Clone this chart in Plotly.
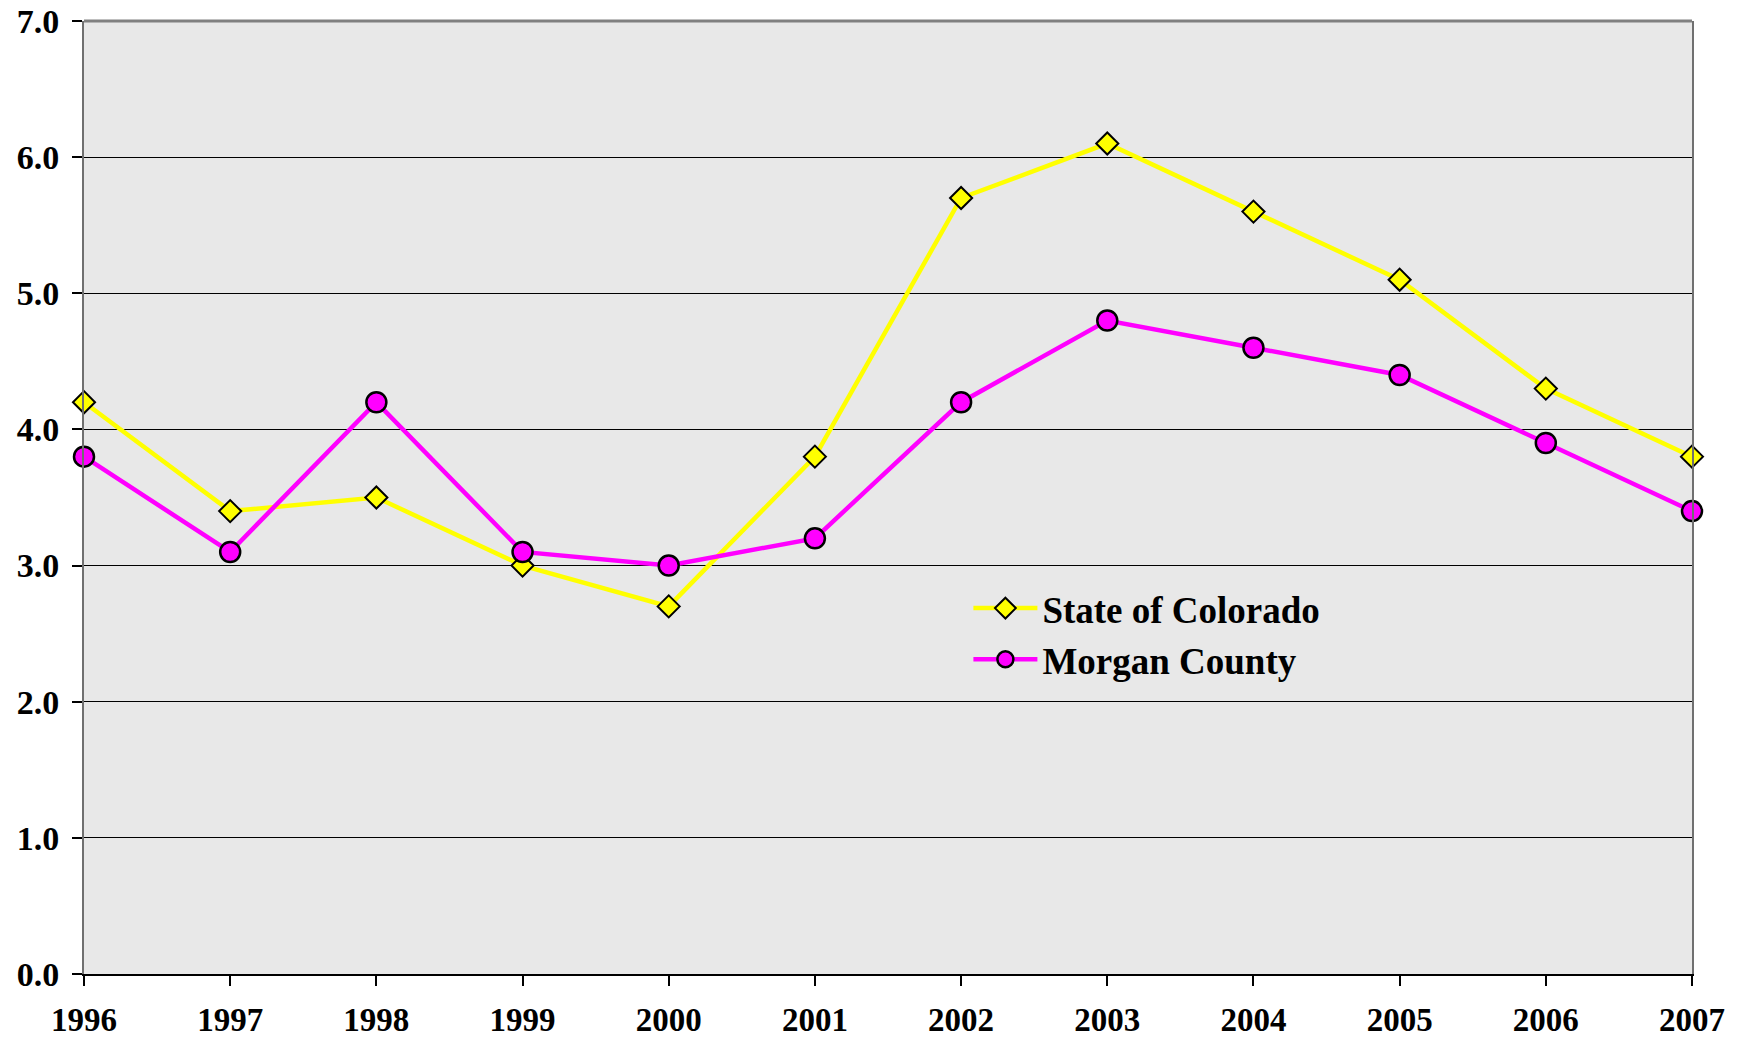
import plotly.graph_objects as go

years = [1996, 1997, 1998, 1999, 2000, 2001, 2002, 2003, 2004, 2005, 2006, 2007]
colorado = [4.2, 3.4, 3.5, 3.0, 2.7, 3.8, 5.7, 6.1, 5.6, 5.1, 4.3, 3.8]
morgan = [3.8, 3.1, 4.2, 3.1, 3.0, 3.2, 4.2, 4.8, 4.6, 4.4, 3.9, 3.4]
y_ticks = [0, 1, 2, 3, 4, 5, 6, 7]
y_labels = ["0.0", "1.0", "2.0", "3.0", "4.0", "5.0", "6.0", "7.0"]

FONT = "Liberation Serif, Times New Roman, serif"

fig = go.Figure()
fig.add_trace(go.Scatter(
    x=years, y=colorado, name="State of Colorado", mode="lines+markers",
    line=dict(color="#FFFF00", width=4.5),
    marker=dict(symbol="diamond", size=17, color="#FFFF00",
                line=dict(color="black", width=2)),
    cliponaxis=False,
))
fig.add_trace(go.Scatter(
    x=years, y=morgan, name="Morgan County", mode="lines+markers",
    line=dict(color="#FF00FF", width=4.5),
    marker=dict(symbol="circle", size=20, color="#FF00FF",
                line=dict(color="black", width=2.5)),
    cliponaxis=False,
))

fig.update_layout(
    width=1740, height=1042,
    margin=dict(l=84, r=48, t=21, b=68, autoexpand=False),
    paper_bgcolor="white",
    plot_bgcolor="#e8e8e8",
    font=dict(family=FONT, color="black"),
    showlegend=True,
    legend=dict(
        x=0.550, y=0.416, xanchor="left", yanchor="top",
        bgcolor="rgba(0,0,0,0)",
        font=dict(family=FONT, size=37, color="black", weight="bold"),
        itemwidth=64, tracegroupgap=0,
    ),
    xaxis=dict(
        range=[1996, 2007], tickmode="array", tickvals=years,
        ticktext=[str(y) for y in years], automargin=False,
        showgrid=False, zeroline=False,
        showline=True, linecolor="black", linewidth=2,
        ticks="outside", ticklen=10, tickcolor="black", tickwidth=1.5,
        tickfont=dict(family=FONT, size=33, color="black", weight="bold"),
        ticklabelstandoff=5, ticklabeloverflow="allow",
    ),
    yaxis=dict(
        range=[0, 7], tickmode="array", tickvals=y_ticks, ticktext=y_labels,
        automargin=False,
        showgrid=True, gridcolor="black", gridwidth=1,
        zeroline=False,
        showline=True, linecolor="#707070", linewidth=2, mirror=True,
        ticks="outside", ticklen=10, tickcolor="black", tickwidth=1.5,
        tickfont=dict(family=FONT, size=34, color="black", weight="bold"),
        ticklabelstandoff=6, ticklabeloverflow="allow",
    ),
    shapes=[dict(type="line", xref="paper", yref="paper", x0=0, x1=1, y0=1, y1=1,
                 line=dict(color="#808080", width=3), layer="above")],
)

fig.write_html(
    "out.html",
    config={"displayModeBar": False},
    post_script="document.body.style.margin='0';document.body.style.overflow='hidden';",
)
